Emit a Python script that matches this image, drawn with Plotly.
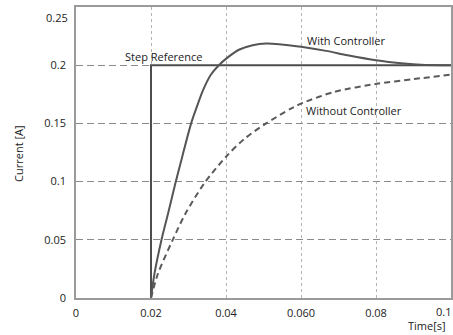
import plotly.graph_objects as go

# Data
t_ref = [0.02, 0.02, 0.1]
i_ref = [0.0, 0.2, 0.2]

t_with = [0.02, 0.0209, 0.0228, 0.0245, 0.0265, 0.0283, 0.0307, 0.0322, 0.0338, 0.0360, 0.0381, 0.0403, 0.0436, 0.0471, 0.0507, 0.0542, 0.0600, 0.0667, 0.0724, 0.0800, 0.0875, 0.0920, 0.1]
i_with = [0.0, 0.0204, 0.05, 0.072, 0.0985, 0.121, 0.15, 0.164, 0.178, 0.192, 0.2, 0.2063, 0.2135, 0.2172, 0.2187, 0.2181, 0.2158, 0.2123, 0.2086, 0.2043, 0.2015, 0.2004, 0.2]

t_without = [0.02, 0.0218, 0.0258, 0.0291, 0.0342, 0.0403, 0.0450, 0.0507, 0.0573, 0.0600, 0.0688, 0.0802, 0.0900, 0.1]
i_without = [0.0, 0.0204, 0.05, 0.072, 0.0985, 0.1224, 0.137, 0.15, 0.1627, 0.167, 0.177, 0.184, 0.188, 0.192]

x_ticks = [0, 0.02, 0.04, 0.06, 0.08]
x_tick_labels = ["0", "0.02", "0.04", "0.060", "0.08"]
x_last_tick = 0.1
x_last_label = "0.1"
y_ticks = [0, 0.05, 0.1, 0.15, 0.2]
y_tick_labels = ["0", "0.05", "0.1", "0.15", "0.2"]
y_top_label = "0.25"

FONT = "Open Sans"
TXT = dict(size=11, color="#222")
fig = go.Figure()
fig.add_trace(go.Scatter(x=t_ref, y=i_ref, mode="lines",
                         line=dict(color="#4d4d4d", width=2), showlegend=False))
fig.add_trace(go.Scatter(x=t_with, y=i_with, mode="lines",
                         line=dict(color="#555555", width=2, shape="spline", smoothing=0.8),
                         showlegend=False))
fig.add_trace(go.Scatter(x=t_without, y=i_without, mode="lines",
                         line=dict(color="#5a5a5a", width=2, dash="6px,4px", shape="spline", smoothing=0.8),
                         showlegend=False))

fig.update_layout(
    width=453, height=335,
    margin=dict(l=76, r=2, t=7, b=37),
    paper_bgcolor="white", plot_bgcolor="white",
    font=dict(family=FONT, size=11, color="#222"),
    xaxis=dict(range=[0, 0.1], tickvals=x_ticks, ticktext=x_tick_labels,
               showgrid=True, gridcolor="#b4b4b4", griddash="dot", gridwidth=1,
               showline=True, mirror=True, linecolor="#9a9a9a", linewidth=1.5,
               ticks="", zeroline=False, ticklabelstandoff=4, automargin=False),
    yaxis=dict(range=[0, 0.25], tickvals=y_ticks, ticktext=y_tick_labels,
               showgrid=True, gridcolor="#8a8a8a", griddash="7px,4px", gridwidth=1,
               showline=True, mirror=True, linecolor="#9a9a9a", linewidth=1.5,
               ticks="", zeroline=False, ticklabelstandoff=6, automargin=False),
)

fig.add_annotation(x=x_last_tick, y=0, xref="x", yref="y", text=x_last_label, showarrow=False,
                   xanchor="right", yanchor="top", xshift=2, yshift=-4, font=TXT)
fig.add_annotation(x=0, y=0.2414, xref="x", yref="y", text=y_top_label, showarrow=False,
                   xanchor="right", yanchor="middle", xshift=-6, font=TXT)
fig.add_annotation(x=0.0232, y=0.2078, text="Step Reference", showarrow=False,
                   xanchor="center", yanchor="middle", font=TXT)
fig.add_annotation(x=0.072, y=0.2216, text="With Controller", showarrow=False,
                   xanchor="center", yanchor="middle", font=TXT)
fig.add_annotation(x=0.0741, y=0.161, text="Without Controller", showarrow=False,
                   xanchor="center", yanchor="middle", font=TXT)
fig.add_annotation(x=0.936, y=-0.096, xref="paper", yref="paper", text="Time[s]",
                   showarrow=False, xanchor="center", yanchor="middle", font=TXT)
fig.add_annotation(x=-0.155, y=0.498, xref="paper", yref="paper", text="Current [A]",
                   textangle=-90, showarrow=False, xanchor="center", yanchor="middle", font=TXT)

fig.write_html("out.html")
